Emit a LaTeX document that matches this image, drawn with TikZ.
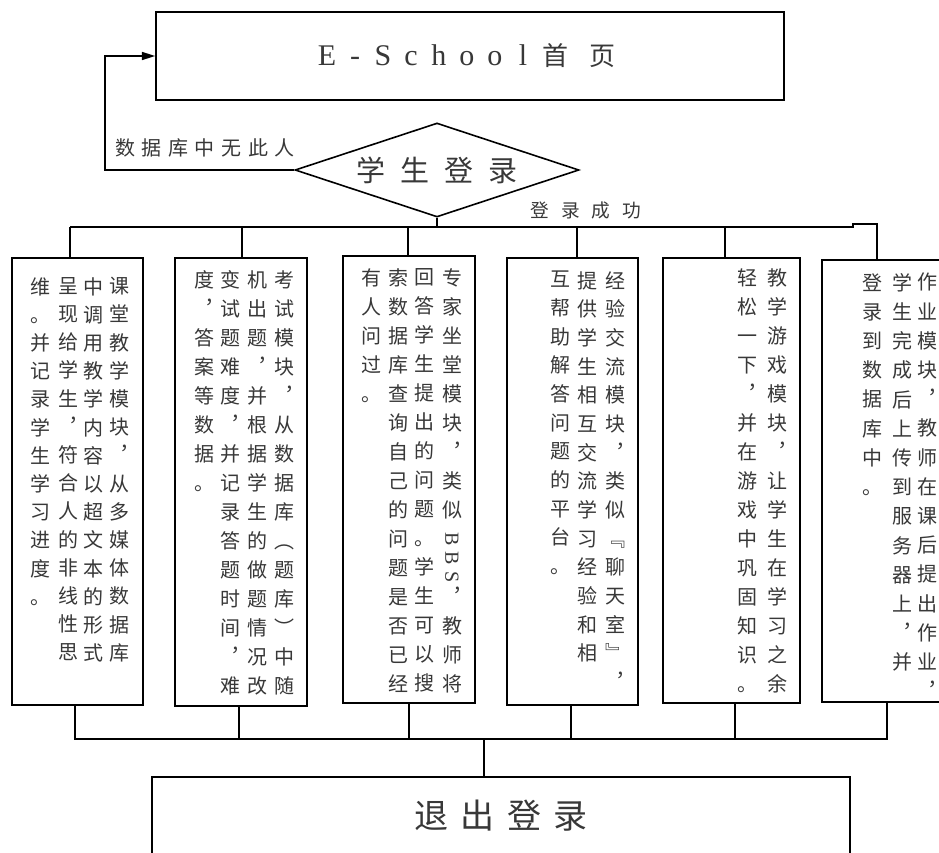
\documentclass[tikz,border=0pt]{standalone}
\usepackage{fontspec}
\setmainfont{Liberation Serif}
\newfontfamily\cjk{Noto Sans CJK SC}
\usetikzlibrary{shapes.geometric,arrows.meta}
\definecolor{txt}{rgb}{0.22,0.22,0.22}
\makeatletter
\newcommand\vcol[2]{\vbox{\baselineskip=#1\lineskiplimit=-\maxdimen\lineskip=0pt\relax\@tfor\vch:=#2\do{\hbox to 1em{\hss\vch\hss}}}}
\newcommand\cells[2]{\@tfor\vch:=#2\do{\hbox to #1{\hss\vch\hss}}}
\makeatother
\begin{document}
\begin{tikzpicture}[x=0.75pt,y=-0.75pt,
  ln/.style={line width=1.2pt,draw=black},
  bx/.style={draw=black,line width=1.2pt,inner sep=0pt,fill=white,text=txt},
  vt/.style={inner sep=0pt,anchor=north,text=txt,font=\cjk\fontsize{15pt}{15pt}\selectfont},
  lbl/.style={inner sep=0pt,text=txt}]
\useasboundingbox (0,0) rectangle (939,853);
\clip (0,0) rectangle (939,853);

% top box
\node[bx,minimum width={628*0.75pt},minimum height={88*0.75pt}] (top) at (470,56)
  {\fontsize{22.5pt}{22.5pt}\selectfont\cells{21pt}{E-School}\kern-4.5pt{\cjk\fontsize{19.5pt}{19.5pt}\selectfont\cells{36pt}{首页}}};

% decision
\node[bx,shape=diamond,aspect=3,minimum width={284*0.75pt},minimum height={94*0.75pt},
  font=\cjk\fontsize{21.75pt}{21.75pt}\selectfont] (dia) at (437,170) {\cells{33pt}{学生登录}};

% six module boxes
\node[bx,minimum width={131*0.75pt},minimum height={447*0.75pt}] (b1) at (77.5,481.5) {};
\node[bx,minimum width={132*0.75pt},minimum height={448*0.75pt}] (b2) at (241,482) {};
\node[bx,minimum width={132*0.75pt},minimum height={447*0.75pt}] (b3) at (409,479.5) {};
\node[bx,minimum width={131*0.75pt},minimum height={447*0.75pt}] (b4) at (572.5,481.5) {};
\node[bx,minimum width={137*0.75pt},minimum height={445*0.75pt}] (b5) at (731.5,480.5) {};
\node[bx,minimum width={128*0.75pt},minimum height={442*0.75pt}] (b6) at (886,481) {};

% exit box
\node[bx,minimum width={698*0.75pt},minimum height={78*0.75pt},
  font=\cjk\fontsize{25.5pt}{25.5pt}\selectfont] (exit) at (501,816) {\cells{35pt}{退出登录}};

% labels
\node[lbl,font=\cjk\fontsize{15pt}{15pt}\selectfont] (nolbl) at (205,148) {\cells{20pt}{数据库中无此人}};
\node[lbl,font=\cjk\fontsize{14pt}{14pt}\selectfont] (oklbl) at (586,210) {\cells{23pt}{登录成功}};

% loop back arrow
\coordinate (lp) at (105,0);
\draw[ln,-{Triangle[length=10pt,width=6pt]}] (dia.west) -| (lp |- top.west) -- (top.west);

% top bus
\coordinate (t1) at (70,227);
\coordinate (t2) at (242,227);
\coordinate (t3) at (408,227);
\coordinate (t4) at (577,227);
\coordinate (t5) at (725,227);
\coordinate (tr) at (853,227);
\coordinate (t6) at (877,224);
\draw[ln] (dia.south) -- (dia.south |- t1);
\draw[ln] (t1) -- (tr) |- (t6) -- (t6 |- b6.north);
\foreach \i in {1,...,5} \draw[ln] (t\i) -- (t\i |- b\i.north);

% bottom bus
\coordinate (s1) at (75,739);
\coordinate (s2) at (239,739);
\coordinate (s3) at (409,739);
\coordinate (s4) at (571,739);
\coordinate (s5) at (735,739);
\coordinate (s6) at (887,739);
\coordinate (sc) at (484,739);
\draw[ln] (s1 |- b1.south) -- (s1) -- (s6) -- (s6 |- b6.south);
\foreach \i in {2,...,5} \draw[ln] (s\i |- b\i.south) -- (s\i);
\draw[ln] (sc) -- (sc |- exit.north);

% box 1 text
\node[vt] (b1c1) at (119,277) {\vcol{21.15pt}{课堂教学模块︐从多媒体数据库}};
\node[vt] (b1c2) at (93,277) {\vcol{21.15pt}{中调用教学内容以超文本的形式}};
\node[vt] (b1c3) at (68,277) {\vcol{21.15pt}{呈现给学生︐符合人的非线性思}};
\node[vt] (b1c4) at (40,277) {\vcol{21.15pt}{维。并记录学生学习进度。}};
% box 2 text
\node[vt] (b2c1) at (284,270) {\vcol{21.75pt}{考试模块︐从数据库︵题库︶中随}};
\node[vt] (b2c2) at (257,270) {\vcol{21.75pt}{机出题︐并根据学生的做题情况改}};
\node[vt] (b2c3) at (230,270) {\vcol{21.75pt}{变试题难度︐并记录答题时间︐难}};
\node[vt] (b2c4) at (204,270) {\vcol{21.75pt}{度︐答案等数据。}};
% box 3 text
\node[vt] (b3c1) at (452,268) {\vcol{21.75pt}{专家坐堂模块︐类似{}{}︐教师将}};
\node[lbl,rotate=-90,font=\fontsize{15pt}{15pt}\selectfont] (bbs) at (452,558) {\cells{14pt}{BBS}};
\node[vt] (b3c2) at (424,268) {\vcol{21.75pt}{回答学生提出的问题。学生可以搜}};
\node[vt] (b3c3) at (398,268) {\vcol{21.75pt}{索数据库查询自己的问题是否已经}};
\node[vt] (b3c4) at (371,268) {\vcol{21.75pt}{有人问过。}};
% box 4 text
\node[vt] (b4c1) at (615,271) {\vcol{21.5pt}{经验交流模块︐类似﹃聊天室﹄︐}};
\node[vt] (b4c2) at (587,271) {\vcol{21.5pt}{提供学生相互交流学习经验和相}};
\node[vt] (b4c3) at (560,271) {\vcol{21.5pt}{互帮助解答问题的平台。}};
% box 5 text
\node[vt] (b5c1) at (777,268) {\vcol{21.75pt}{教学游戏模块︐让学生在学习之余}};
\node[vt] (b5c2) at (747,268) {\vcol{21.75pt}{轻松一下︐并在游戏中巩固知识。}};
% box 6 text
\node[vt] (b6c1) at (927,273) {\vcol{21.9pt}{作业模块︐教师在课后提出作业︐}};
\node[vt] (b6c2) at (902,273) {\vcol{21.9pt}{学生完成后上传到服务器上︐并}};
\node[vt] (b6c3) at (872,273) {\vcol{21.9pt}{登录到数据库中。}};
\end{tikzpicture}
\end{document}
